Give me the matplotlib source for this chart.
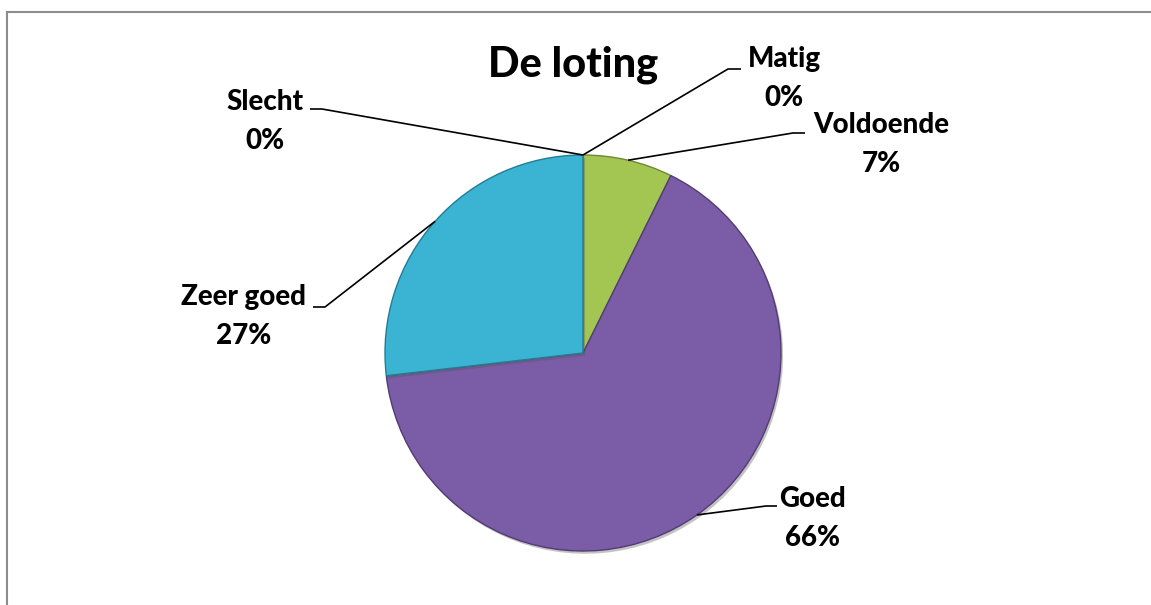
import matplotlib
matplotlib.use("Agg")
import numpy as np
import matplotlib.pyplot as plt
import matplotlib.patheffects as pe
from matplotlib.lines import Line2D

# data: counts per rating (read as percentages off the chart)
categories = ["Slecht", "Matig", "Voldoende", "Goed", "Zeer goed"]
counts = [0, 0, 3, 27, 11]
colors = ["#c0504d", "#f79646", "#a2c651", "#7b5ca6", "#3bb3d3"]
edge_colors = ["#8c3836", "#b66d31", "#6f8a34", "#523c73", "#237c94"]
title = "De loting"

W, H = 1151, 605
plt.rcParams["font.family"] = ["Lato", "DejaVu Sans"]

fig = plt.figure(figsize=(W / 100, H / 100), dpi=100)
ax = fig.add_axes([0, 0, 1, 1])

# chart border (top and left visible, the rest runs off the image)
fig.add_artist(Line2D([7 / W, 7 / W], [0, 1 - 12 / H], color="#8c8c8c", lw=1.5))
fig.add_artist(Line2D([7 / W, 1], [1 - 12 / H, 1 - 12 / H], color="#8c8c8c", lw=1.5))

cx, cy, r = 583, 353, 198
ax.set_xlim(0, W)
ax.set_ylim(H, 0)
# y axis is inverted, so counterclock=True here runs clockwise on screen
# and startangle=-90 puts the start at the top
wedges, _ = ax.pie(counts, colors=colors, startangle=-90, counterclock=True,
                   center=(cx, cy), radius=r, frame=True,
                   wedgeprops=dict(linewidth=1.0))
shadow = [pe.SimplePatchShadow(offset=(1.5, -2), alpha=0.35, shadow_rgbFace="#555555"),
          pe.Normal()]
for w, ec in zip(wedges, edge_colors):
    w.set_edgecolor(ec)
    w.set_path_effects(shadow)
ax.set_xlim(0, W)
ax.set_ylim(H, 0)
ax.set_aspect("equal")
ax.axis("off")

ax.text(573, 77, title, ha="center", va="baseline", fontsize=30, fontweight="black")

total = sum(counts)
# label text centre x, name baseline y, and leader elbow (x0, x1, y)
label_pos = {
    "Slecht": (265, 110, 310, 322, 109),
    "Matig": (784, 67, 741, 728, 69),
    "Voldoende": (881, 133, 805, 793, 133),
    "Goed": (813, 507, 777, 766, 506),
    "Zeer goed": (244, 305, 313, 325, 307),
}
for w, name, c in zip(wedges, categories, counts):
    tx, ty, ex0, ex1, ey = label_pos[name]
    ax.text(tx, ty, name, ha="center", va="baseline", fontsize=20, fontweight="black")
    ax.text(tx, ty + 39, f"{c / total:.0%}", ha="center", va="baseline",
            fontsize=20, fontweight="black")
    mid = np.deg2rad((w.theta1 + w.theta2) / 2)
    px, py = cx + r * np.cos(mid), cy + r * np.sin(mid)
    if c == 0:
        px, py = cx, cy - r
    ax.plot([ex0, ex1, px], [ey, ey, py], color="black", lw=1.2,
            solid_capstyle="butt")

fig.savefig("out.png", dpi=100)
